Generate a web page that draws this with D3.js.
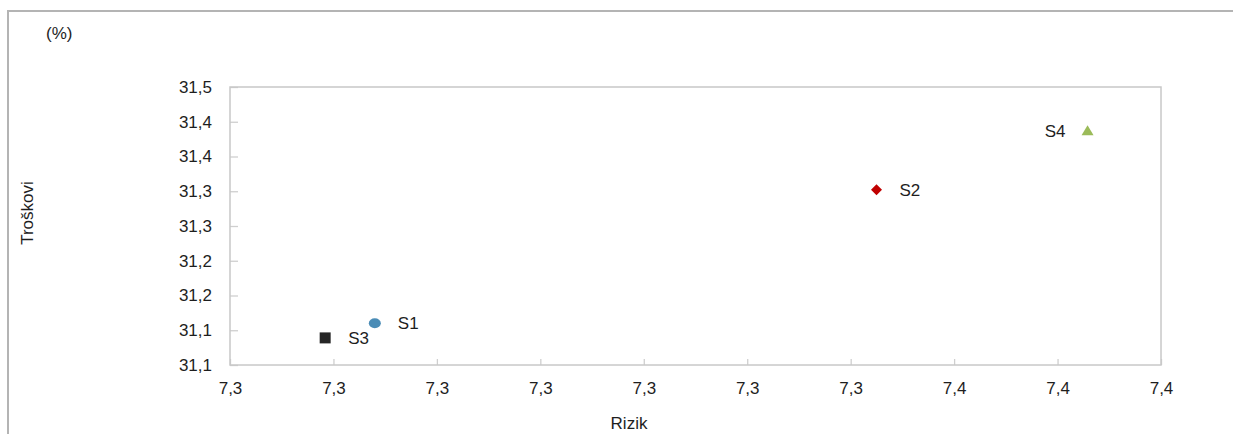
<!DOCTYPE html>
<html><head><meta charset="utf-8">
<script src="https://cdn.jsdelivr.net/npm/d3@7"></script>
<style>body{margin:0;background:#fff}svg{display:block}</style>
</head><body><svg id="c" width="1233" height="434"></svg>
<script>
// ---- data ----
const names = ["S1", "S2", "S3", "S4"];
const risk = [7.2940, 7.3425, 7.2892, 7.3629];
const cost = [31.160, 31.352, 31.139, 31.437];
const colors = ["#4a8cb6", "#c00000", "#262626", "#9bbb59"];
const shapes = ["ellipse", "diamond", "square", "triangle"];
const labelSide = ["right", "right", "right", "left"];
const xTicks = [7.28, 7.29, 7.30, 7.31, 7.32, 7.33, 7.34, 7.35, 7.36, 7.37];
const xTickLabels = ["7,3", "7,3", "7,3", "7,3", "7,3", "7,3", "7,3", "7,4", "7,4", "7,4"];
const yTicks = [31.10, 31.15, 31.20, 31.25, 31.30, 31.35, 31.40, 31.45, 31.50];
const yTickLabels = ["31,1", "31,1", "31,2", "31,2", "31,3", "31,3", "31,4", "31,4", "31,5"];
const xTitle = "Rizik";
const yTitle = "Troškovi";
const unit = "(%)";

// ---- drawing ----
const svg = d3.select("#c");
const font = "Liberation Sans, Arial, sans-serif";
const textColor = "#1e1e1e";
const m = {left: 230, right: 1161, top: 87, bottom: 365};

svg.append("rect").attr("width", 1233).attr("height", 434).attr("fill", "#fff");
// outer chart border
svg.append("rect").attr("x", 8).attr("y", 11).attr("width", 1300).attr("height", 500)
  .attr("fill", "none").attr("stroke", "#b4b4b4").attr("stroke-width", 2);

const x = d3.scaleLinear().domain([xTicks[0], xTicks[xTicks.length - 1]]).range([m.left, m.right]);
const y = d3.scaleLinear().domain([yTicks[0], yTicks[yTicks.length - 1]]).range([m.bottom, m.top]);

const gx = svg.append("g").attr("transform", `translate(0,${m.bottom})`)
  .call(d3.axisBottom(x).tickValues(xTicks).tickFormat((d, i) => xTickLabels[i])
    .tickSizeInner(-6).tickSizeOuter(0).tickPadding(16.5));
const gy = svg.append("g").attr("transform", `translate(${m.left},0)`)
  .call(d3.axisLeft(y).tickValues(yTicks).tickFormat((d, i) => yTickLabels[i])
    .tickSizeInner(-8).tickSizeOuter(0).tickPadding(18));
[gx, gy].forEach(g => {
  g.select(".domain").remove();
  g.selectAll(".tick line").attr("stroke", "#cfcfcf").attr("stroke-width", 1.3);
  g.selectAll("text").attr("font-family", font).attr("font-size", 17).attr("fill", textColor);
});

// plot frame
svg.append("rect").attr("x", m.left).attr("y", m.top)
  .attr("width", m.right - m.left).attr("height", m.bottom - m.top)
  .attr("fill", "none").attr("stroke", "#c8c8c8").attr("stroke-width", 1.5);

// markers
const shapePath = {
  diamond: "M0,-5.5L5.5,0L0,5.5L-5.5,0Z",
  square: "M-5.5,-5.5H5.5V5.5H-5.5Z",
  triangle: "M0,-5.5L6,4.5H-6Z"
};
const pts = names.map((n, i) => ({n, x: risk[i], y: cost[i], c: colors[i], s: shapes[i], side: labelSide[i]}));
const g = svg.append("g");
pts.forEach(p => {
  if (p.s === "ellipse") {
    g.append("ellipse").attr("cx", x(p.x)).attr("cy", y(p.y)).attr("rx", 6).attr("ry", 5).attr("fill", p.c);
  } else {
    g.append("path").attr("d", shapePath[p.s])
      .attr("transform", `translate(${x(p.x)},${y(p.y)})`).attr("fill", p.c);
  }
  g.append("text")
    .attr("x", x(p.x) + (p.side === "right" ? 23 : -22))
    .attr("y", y(p.y)).attr("dy", "0.36em")
    .attr("text-anchor", p.side === "right" ? "start" : "end")
    .attr("font-family", font).attr("font-size", 17).attr("fill", textColor)
    .text(p.n);
});

// titles
svg.append("text").attr("x", 629).attr("y", 429).attr("text-anchor", "middle")
  .attr("font-family", font).attr("font-size", 17).attr("fill", textColor).text(xTitle);
svg.append("text").attr("transform", "translate(33,213) rotate(-90)").attr("text-anchor", "middle")
  .attr("font-family", font).attr("font-size", 17).attr("fill", textColor).text(yTitle);
svg.append("text").attr("x", 46).attr("y", 39)
  .attr("font-family", font).attr("font-size", 17).attr("fill", textColor).text(unit);
</script>
</body></html>
